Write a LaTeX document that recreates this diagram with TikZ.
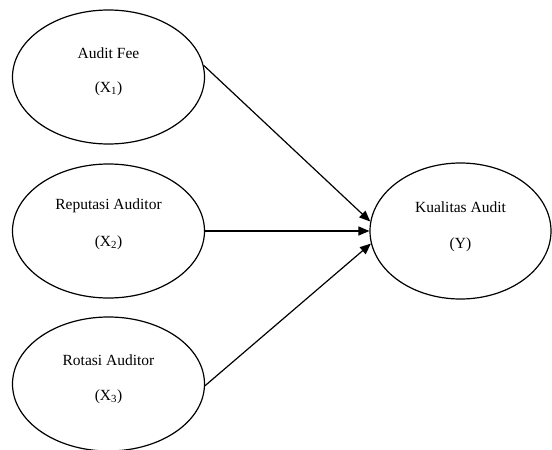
\documentclass[tikz,border=0pt]{standalone}
\usepackage{fontspec}
\setmainfont{Liberation Serif}
\usetikzlibrary{arrows.meta,shapes.geometric}
\begin{document}
\begin{tikzpicture}[x=1pt,y=-1pt,
  oval/.style={draw,ellipse,line width=1.2pt,inner sep=0pt,minimum width=192pt,minimum height=134pt},
  lbl/.style={font=\fontsize{15.5}{18}\selectfont,inner sep=0pt},
  arr/.style={line width=1.2pt,-{Triangle[length=11pt,width=9pt]}}]
\useasboundingbox (0,0) rectangle (552,450);
\node[oval] (a) at (108.5,77) {};
\node[oval] (b) at (108.5,231) {};
\node[oval] (c) at (108.5,384) {};
\node[oval,minimum width=181pt,minimum height=136pt] (y) at (460.5,231) {};
\node[lbl] (ta1) at (108.5,53) {Audit Fee};
\node[lbl] (ta2) at (108.5,89) {(X\textsubscript{1})};
\node[lbl] (tb1) at (108.5,206) {Reputasi Auditor};
\node[lbl] (tb2) at (108.5,243) {(X\textsubscript{2})};
\node[lbl] (tc1) at (108.5,360) {Rotasi Auditor};
\node[lbl] (tc2) at (108.5,397) {(X\textsubscript{3})};
\node[lbl] (ty1) at (460.5,207) {Kualitas Audit};
\node[lbl] (ty2) at (460.5,245) {(Y)};
\draw[arr] (a.7) -- (y.174);
\draw[arr] (b.east) -- (y.west);
\draw[arr] (c.-1) -- (y.-172);
\end{tikzpicture}
\end{document}
